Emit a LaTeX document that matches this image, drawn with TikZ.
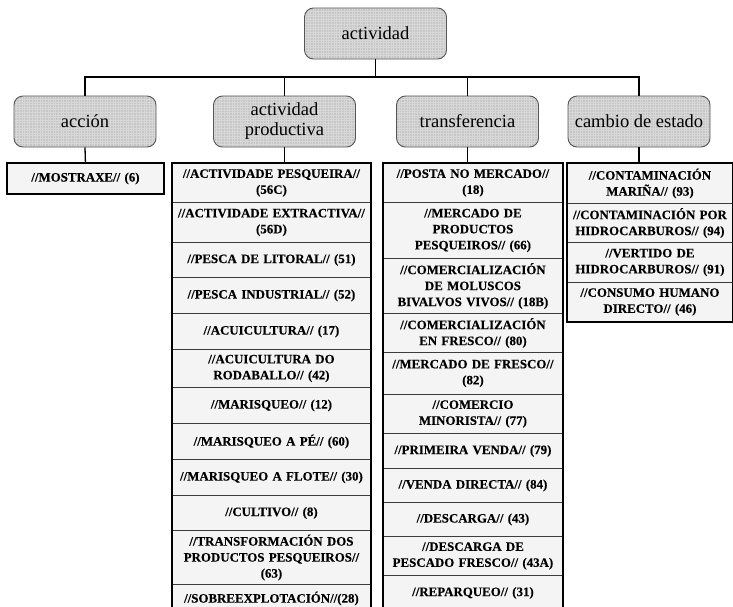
\documentclass[tikz,border=0pt]{standalone}
\usepackage{fontspec}
\setmainfont{Liberation Serif}
\newfontfamily\listfont[FakeBold=0.35]{Liberation Serif Bold}
% one row of a term list: name, left x, width, top y, height, text
\newcommand\listrow[6]{%
  \node[cell, anchor=north west, minimum width=#3pt, text width=#3pt,
        minimum height=#5pt] (#1) at (#2,-#4) {#6};}
\begin{document}
\begin{tikzpicture}[x=1pt,y=1pt,
  headbox/.style={draw={rgb,255:red,85;green,85;blue,85}, line width=0.9pt,
    rounded corners=9pt, fill={rgb,255:red,198;green,198;blue,198},
    minimum width=142pt, minimum height=51pt, inner sep=0pt, align=center,
    font=\fontsize{18.5}{20}\selectfont,
    path picture={\draw[white, opacity=0.3, line width=0.35pt]
      (path picture bounding box.south west) grid[step=2.6pt]
      (path picture bounding box.north east);}},
  cell/.style={draw={rgb,255:red,60;green,60;blue,60}, line width=0.9pt,
    fill={rgb,255:red,244;green,244;blue,244}, inner sep=0pt, align=center,
    font=\listfont\fontsize{12.9}{16}\selectfont},
  frame/.style={draw=black, line width=1.8pt},
  link/.style={draw=black, line width=1.3pt}]
\useasboundingbox (0,0) rectangle (733,-606);

% headings
\node[headbox] (top) at (375.5,-33.5) {actividad};
\node[headbox] (h1) at (85,-121.5) {acción};
\node[headbox] (h2) at (284.5,-121.5) {actividad\\productiva};
\node[headbox] (h3) at (467.5,-121.5) {transferencia};
\node[headbox] (h4) at (639,-121.5) {cambio de estado};

% acción
\listrow{m1}{7}{156}{163}{30}{//MOSTRAXE// (6)}

% actividad productiva
\listrow{p1}{172}{198}{163}{39}{//ACTIVIDADE PESQUEIRA//\\(56C)}
\listrow{p2}{172}{198}{202}{40}{//ACTIVIDADE EXTRACTIVA//\\(56D)}
\listrow{p3}{172}{198}{242}{35}{//PESCA DE LITORAL// (51)}
\listrow{p4}{172}{198}{277}{36}{//PESCA INDUSTRIAL// (52)}
\listrow{p5}{172}{198}{313}{36}{//ACUICULTURA// (17)}
\listrow{p6}{172}{198}{349}{38}{//ACUICULTURA DO\\RODABALLO// (42)}
\listrow{p7}{172}{198}{387}{36}{//MARISQUEO// (12)}
\listrow{p8}{172}{198}{423}{36}{//MARISQUEO A PÉ// (60)}
\listrow{p9}{172}{198}{459}{36}{//MARISQUEO A FLOTE// (30)}
\listrow{p10}{172}{198}{495}{35}{//CULTIVO// (8)}
\listrow{p11}{172}{198}{530}{54}{//TRANSFORMACIÓN DOS\\PRODUCTOS PESQUEIROS//\\(63)}
\listrow{p12}{172}{198}{584}{28}{//SOBREEXPLOTACIÓN//(28)}

% transferencia
\listrow{t1}{383}{179}{163}{39}{//POSTA NO MERCADO//\\(18)}
\listrow{t2}{383}{179}{202}{56}{//MERCADO DE\\PRODUCTOS\\PESQUEIROS// (66)}
\listrow{t3}{383}{179}{258}{55}{//COMERCIALIZACIÓN\\DE MOLUSCOS\\BIVALVOS VIVOS// (18B)}
\listrow{t4}{383}{179}{313}{39}{//COMERCIALIZACIÓN\\EN FRESCO// (80)}
\listrow{t5}{383}{179}{352}{42}{//MERCADO DE FRESCO//\\(82)}
\listrow{t6}{383}{179}{394}{39}{//COMERCIO\\MINORISTA// (77)}
\listrow{t7}{383}{179}{433}{35}{//PRIMEIRA VENDA// (79)}
\listrow{t8}{383}{179}{468}{34}{//VENDA DIRECTA// (84)}
\listrow{t9}{383}{179}{502}{34}{//DESCARGA// (43)}
\listrow{t10}{383}{179}{536}{39}{//DESCARGA DE\\PESCADO FRESCO// (43A)}
\listrow{t11}{383}{179}{575}{35}{//REPARQUEO// (31)}

% cambio de estado
\listrow{c1}{567}{165}{163}{40}{//CONTAMINACIÓN\\MARIÑA// (93)}
\listrow{c2}{567}{165}{203}{39}{//CONTAMINACIÓN POR\\HIDROCARBUROS// (94)}
\listrow{c3}{567}{165}{242}{40}{//VERTIDO DE\\HIDROCARBUROS// (91)}
\listrow{c4}{567}{165}{282}{39}{//CONSUMO HUMANO\\DIRECTO// (46)}

% heavy outer frames of the lists
\draw[frame] (m1.north west) rectangle (m1.south east);
\draw[frame] (p1.north west) rectangle (p12.south east);
\draw[frame] (t1.north west) rectangle (t11.south east);
\draw[frame] (c1.north west) rectangle (c4.south east);

% tree connectors
\coordinate (bar) at (0,-77);
\draw[link] (top.south) -- (top.south |- bar);
\draw[link] (h1.north) |- (h4.north |- bar) -- (h4.north);
\draw[link] (h2.north) -- (h2.north |- bar);
\draw[link] (h3.north) -- (h3.north |- bar);
\draw[link] (h1.south) -- (m1.north);
\draw[link] (h2.south) -- (h2.south |- p1.north);
\draw[link] (h3.south) -- (h3.south |- t1.north);
\draw[link] (h4.south) -- (h4.south |- c1.north);
\end{tikzpicture}
\end{document}
